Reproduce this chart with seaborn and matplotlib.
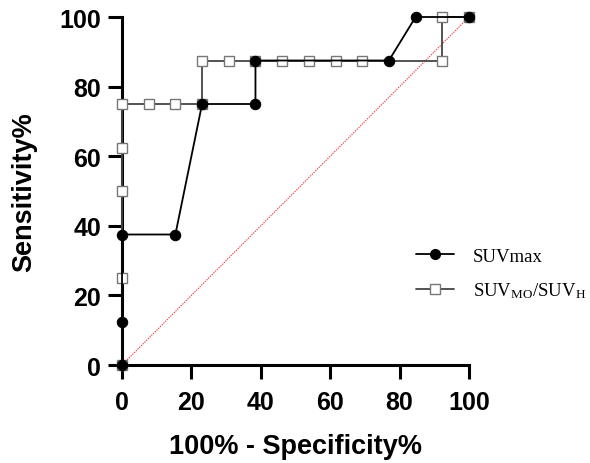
import matplotlib
matplotlib.use("Agg")
import matplotlib.pyplot as plt
import seaborn as sns
import pandas as pd
from matplotlib.lines import Line2D

sns.set_style("ticks")
plt.rcParams['font.family'] = ['Liberation Sans', 'DejaVu Sans']
plt.rcParams['mathtext.fontset'] = 'custom'
plt.rcParams['mathtext.rm'] = 'Liberation Serif'
plt.rcParams['mathtext.it'] = 'Liberation Serif:italic'
for k in ['text.color', 'axes.labelcolor', 'xtick.color', 'ytick.color',
          'axes.edgecolor']:
    plt.rcParams[k] = 'black'

# SUVmax ROC points (100% - Specificity%, Sensitivity%)
suvmax_x = [0, 0, 0, 15.38, 23.08, 38.46, 38.46, 76.92, 84.62, 100]
suvmax_y = [0, 12.5, 37.5, 37.5, 75, 75, 87.5, 87.5, 100, 100]

# SUV_MO/SUV_H ROC points
ratio_x = [0, 0, 0, 0, 0, 7.69, 15.38, 23.08, 23.08, 30.77, 38.46, 46.15, 53.85,
           61.54, 69.23, 92.31, 92.31, 100]
ratio_y = [0, 25, 50, 62.5, 75, 75, 75, 75, 87.5, 87.5, 87.5, 87.5, 87.5,
           87.5, 87.5, 87.5, 100, 100]

ref_x = [0, 100]
ref_y = [0, 100]

x_ticks = [0, 20, 40, 60, 80, 100]
y_ticks = [0, 20, 40, 60, 80, 100]

fig = plt.figure(figsize=(5.9, 4.64), dpi=100)
ax = fig.add_axes([0.2068, 0.2112, 0.5881, 0.7500])

df_ref = pd.DataFrame({'x': ref_x, 'y': ref_y})
sns.lineplot(data=df_ref, x='x', y='y', ax=ax, color='#f03c3c', lw=0.8,
             linestyle=(0, (1.2, 1.0)), estimator=None, sort=False)

df_r = pd.DataFrame({'x': ratio_x, 'y': ratio_y})
sns.lineplot(data=df_r, x='x', y='y', ax=ax, color='#444444', lw=1.3,
             marker='s', markersize=7.5, markerfacecolor='white',
             markeredgecolor='#777777', markeredgewidth=1.0,
             estimator=None, sort=False, clip_on=False, zorder=3)

df_s = pd.DataFrame({'x': suvmax_x, 'y': suvmax_y})
sns.lineplot(data=df_s, x='x', y='y', ax=ax, color='black', lw=1.3,
             marker='o', markersize=7.5, markerfacecolor='black',
             markeredgecolor='black', estimator=None, sort=False,
             clip_on=False, zorder=4)

ax.set_xlim(0, 100)
ax.set_ylim(0, 100)
ax.set_xticks(x_ticks)
ax.set_yticks(y_ticks)
ax.spines['top'].set_visible(False)
ax.spines['right'].set_visible(False)
for s in ['left', 'bottom']:
    ax.spines[s].set_linewidth(2.2)
ax.tick_params(axis='both', direction='out', length=10, width=2.2,
               labelsize=18)
ax.tick_params(axis='x', pad=8)
ax.tick_params(axis='y', pad=5)
for lab in ax.get_xticklabels() + ax.get_yticklabels():
    lab.set_fontweight('bold')

ax.set_xlabel('100% - Specificity%', fontsize=19.5, fontweight='bold', labelpad=14)
ax.set_ylabel('Sensitivity%', fontsize=19.5, fontweight='bold', labelpad=16)

handles = [
    Line2D([], [], color='black', lw=1.3, marker='o', markersize=7,
           markerfacecolor='black'),
    Line2D([], [], color='#444444', lw=1.3, marker='s', markersize=7,
           markerfacecolor='white', markeredgecolor='#777777'),
]
labels = ['SUVmax', r'SUV$_{\mathrm{MO}}$/SUV$_{\mathrm{H}}$']
leg = ax.legend(handles, labels, loc='center left', bbox_to_anchor=(0.8, 0.262),
                frameon=False, handlelength=2.0, handletextpad=1.0,
                labelspacing=0.85, prop={'family': 'Liberation Serif', 'size': 13.5})

fig.savefig('out.png', dpi=100)
